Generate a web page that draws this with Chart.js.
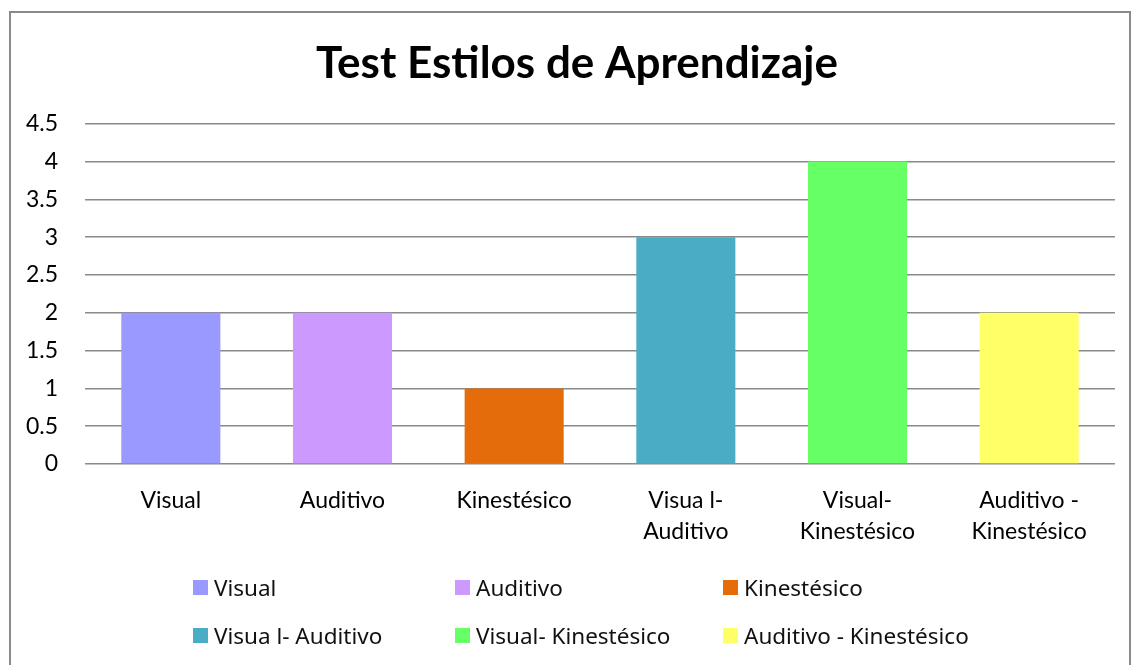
<!DOCTYPE html>
<html>
<head>
<meta charset="utf-8">
<script src="https://cdn.jsdelivr.net/npm/chart.js@4/dist/chart.umd.min.js"></script>
<style>
  html, body { margin: 0; padding: 0; background: #fff; overflow: hidden; }
  #wrap { position: relative; width: 1134px; height: 665px; }
  #frame { position: absolute; left: 9px; top: 11px; width: 1122px; height: 700px;
           border: 2px solid #8a8a8a; box-sizing: border-box; }
  #cv { position: absolute; left: 0; top: 0; }
  #legend { position: absolute; left: 193px; top: 574px; display: grid;
            grid-template-columns: 262px 268px auto; row-gap: 22px;
            font-family: "Noto Sans", "Open Sans", sans-serif; font-size: 22.5px; color: #111; }
  .li { display: flex; align-items: center; height: 26px; white-space: nowrap; }
  .sw { width: 15px; height: 15px; margin-right: 6px; flex: none; }
</style>
</head>
<body>
<div id="wrap">
  <div id="frame"></div>
  <canvas id="cv" width="1134" height="665"></canvas>
  <div id="legend"></div>
</div>
<script>
const categories = ["Visual", "Auditivo", "Kinestésico", "Visua l- Auditivo", "Visual- Kinestésico", "Auditivo - Kinestésico"];
const tickLabels = [["Visual"], ["Auditivo"], ["Kinestésico"], ["Visua l-", "Auditivo"], ["Visual-", "Kinestésico"], ["Auditivo -", "Kinestésico"]];
const values = [2, 2, 1, 3, 4, 2];
const colors = ["#9999FF", "#CC99FF", "#E46C0A", "#4BACC6", "#66FF66", "#FFFF66"];
const titleText = "Test Estilos de Aprendizaje";

const lg = document.getElementById('legend');
categories.forEach((c, i) => {
  const d = document.createElement('div'); d.className = 'li';
  const s = document.createElement('span'); s.className = 'sw'; s.style.background = colors[i];
  const t = document.createElement('span'); t.textContent = c;
  d.appendChild(s); d.appendChild(t); lg.appendChild(d);
});

const axisFont = { family: "Lato, 'Open Sans', sans-serif", size: 23 };
new Chart(document.getElementById('cv'), {
  type: 'bar',
  data: {
    labels: tickLabels,
    datasets: [{ data: values, backgroundColor: colors, borderWidth: 0,
                 categoryPercentage: 1, barPercentage: 0.577 }]
  },
  options: {
    responsive: false, animation: false, devicePixelRatio: 1,
    layout: { padding: { left: 20, right: 0, top: 0, bottom: 0 } },
    plugins: {
      legend: { display: false },
      tooltip: { enabled: false },
      title: { display: true, text: titleText, color: '#000',
               font: { family: "Lato, 'Open Sans', sans-serif", size: 44, weight: 'bold', lineHeight: 1.2 },
               padding: { top: 37, bottom: 34 } }
    },
    scales: {
      x: {
        grid: { display: false, drawTicks: false },
        border: { display: false },
        ticks: { color: '#000', font: { ...axisFont, lineHeight: 1.35 }, padding: 21, maxRotation: 0, autoSkip: false },
        afterFit: s => { s.height = 201; }
      },
      y: {
        min: 0, max: 4.5,
        grid: { color: '#8a8a8a', lineWidth: 1.5, drawTicks: false },
        border: { display: false },
        ticks: { stepSize: 0.5, color: '#000', font: axisFont, padding: 27,
                 callback: v => String(Number(v)) },
        afterFit: s => { s.width = 65; }
      },
      y2: {
        position: 'right', display: true,
        grid: { display: false, drawTicks: false }, border: { display: false },
        ticks: { display: false },
        afterFit: s => { s.width = 19; }
      }
    }
  }
});
</script>
</body>
</html>
